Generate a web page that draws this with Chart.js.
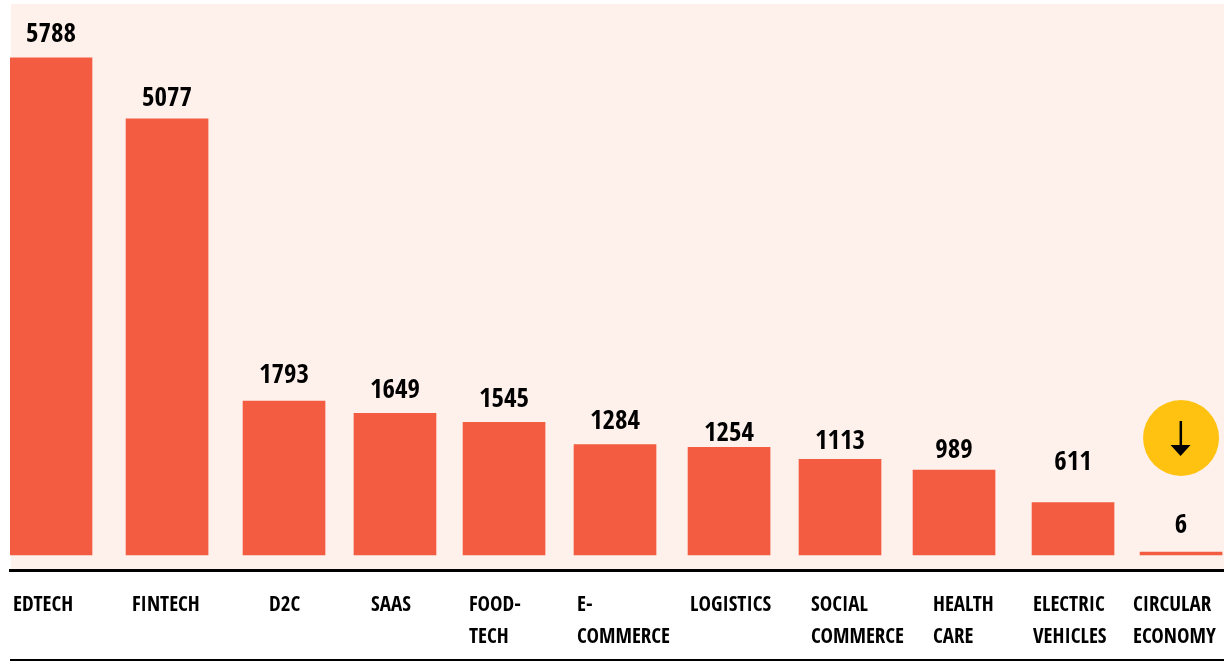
<!DOCTYPE html>
<html>
<head>
<meta charset="utf-8">
<title>Startups by sector</title>
<script src="https://cdn.jsdelivr.net/npm/chart.js@4"></script>
<style>
  html, body { margin: 0; padding: 0; background: #fff; }
  canvas { display: block; }
</style>
</head>
<body>
<canvas id="sectorChart" width="1224" height="661"></canvas>
<script>
const sectors = ["EDTECH", "FINTECH", "D2C", "SAAS", "FOOD-TECH", "E-COMMERCE", "LOGISTICS", "SOCIAL COMMERCE", "HEALTH CARE", "ELECTRIC VEHICLES", "CIRCULAR ECONOMY"];
const counts = [5788, 5077, 1793, 1649, 1545, 1284, 1254, 1113, 989, 611, 6];
const tickLines = [["EDTECH"], ["FINTECH"], ["D2C"], ["SAAS"], ["FOOD-", "TECH"], ["E-", "COMMERCE"], ["LOGISTICS"], ["SOCIAL", "COMMERCE"], ["HEALTH", "CARE"], ["ELECTRIC", "VEHICLES"], ["CIRCULAR", "ECONOMY"]];

// the columns are hand-placed, so x is a linear slot axis rather than a category one
const barSlots = [0, 1.027, 2.062, 3.044, 4.009, 4.991, 6, 6.982, 7.991, 9.044, 10];
const tickSlots = [-0.336, 0.717, 1.929, 2.832, 3.699, 4.655, 5.655, 6.726, 7.805, 8.69, 9.575];
const labelLift = [23, 20, 25, 22, 22, 23, 13, 17, 19, 40, 26];

const FONT = '"Open Sans Condensed", "Roboto Condensed", sans-serif';
const BAR = "#f35c41";
const PANEL = "#fef0eb";
const YELLOW = "#ffc211";

const panel = {
  id: "panel",
  beforeDraw(chart) {
    const { ctx, chartArea: a, width, height } = chart;
    ctx.save();
    ctx.fillStyle = PANEL;
    ctx.fillRect(a.left + 1, a.top, a.right - a.left - 1, a.bottom - a.top);
    // closing rule under the tick labels
    ctx.fillStyle = "#000";
    ctx.fillRect(a.left, height - 2, width - a.left, 2);
    ctx.restore();
  }
};

const valueLabels = {
  id: "valueLabels",
  afterDatasetsDraw(chart) {
    const { ctx } = chart;
    ctx.save();
    ctx.fillStyle = "#000";
    ctx.font = "bold 27px " + FONT;
    ctx.textAlign = "center";
    ctx.textBaseline = "middle";
    chart.getDatasetMeta(0).data.forEach((bar, i) => {
      ctx.fillText(String(counts[i]), bar.x, bar.y - labelLift[i]);
    });
    ctx.restore();
  }
};

// yellow badge with a down arrow above the smallest column
const downBadge = {
  id: "downBadge",
  afterDatasetsDraw(chart) {
    const { ctx } = chart;
    const bars = chart.getDatasetMeta(0).data;
    const last = bars[bars.length - 1];
    const cx = last.x;
    const cy = last.y - 114;
    ctx.save();
    ctx.fillStyle = YELLOW;
    ctx.beginPath();
    ctx.arc(cx, cy, 38, 0, Math.PI * 2);
    ctx.fill();
    ctx.fillStyle = "#000";
    ctx.fillRect(cx - 1.5, cy - 17, 2.5, 25);
    ctx.beginPath();
    ctx.moveTo(cx - 10.5, cy + 7);
    ctx.lineTo(cx + 9.5, cy + 7);
    ctx.lineTo(cx - 0.5, cy + 18);
    ctx.closePath();
    ctx.fill();
    ctx.restore();
  }
};

new Chart(document.getElementById("sectorChart"), {
  type: "bar",
  data: {
    labels: sectors,
    datasets: [{
      data: counts.map((v, i) => ({ x: barSlots[i], y: v })),
      backgroundColor: BAR,
      borderWidth: 0,
      barThickness: 82,
      minBarLength: 3
    }]
  },
  options: {
    responsive: false,
    animation: false,
    layout: { padding: { left: 10, top: 4 } },
    plugins: {
      legend: { display: false },
      tooltip: { enabled: false }
    },
    scales: {
      x: {
        type: "linear",
        offset: false,
        min: -0.3628,
        max: 10.38,
        grid: { display: false },
        border: { display: true, color: "#000", width: 3 },
        afterBuildTicks(axis) {
          axis.ticks = tickSlots.map(value => ({ value }));
        },
        afterFit(axis) {
          // long last tick must not eat into the plot width
          axis.height = 91;
          axis.paddingLeft = 0;
          axis.paddingRight = 0;
        },
        ticks: {
          autoSkip: false,
          maxRotation: 0,
          minRotation: 0,
          align: "start",
          color: "#000",
          padding: 12,
          font: { family: FONT, size: 21, weight: "bold", lineHeight: 32 / 21 },
          callback: (value, i) => tickLines[i]
        }
      },
      y: {
        display: false,
        min: -174.6,
        max: 6414,
        grid: { display: false }
      }
    }
  },
  plugins: [panel, valueLabels, downBadge]
});
</script>
</body>
</html>
